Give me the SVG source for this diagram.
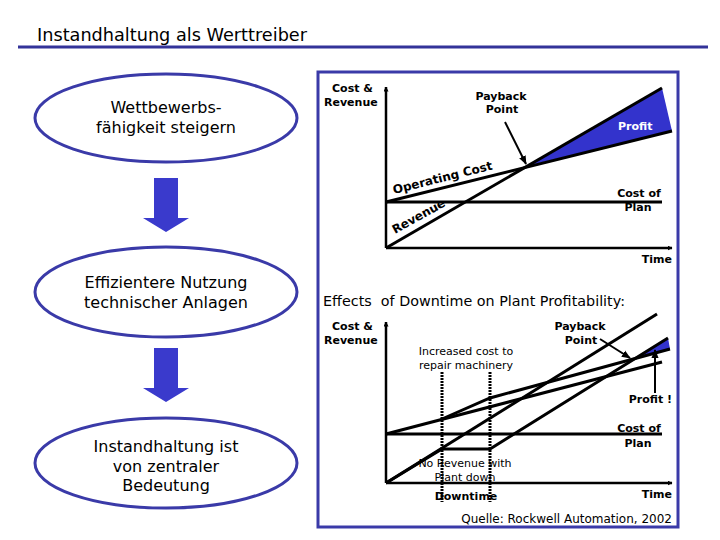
<svg xmlns="http://www.w3.org/2000/svg" width="720" height="540" viewBox="0 0 720 540">
<defs>
<marker id="ah" viewBox="0 0 10 10" refX="9" refY="5" markerWidth="5" markerHeight="5" orient="auto" markerUnits="userSpaceOnUse">
<path d="M0,0 L10,5 L0,10 Z" fill="#000"/>
</marker>
<marker id="ah2" viewBox="0 0 10 10" refX="9" refY="5" markerWidth="9" markerHeight="9" orient="auto" markerUnits="userSpaceOnUse">
<path d="M0,1 L10,5 L0,9 Z" fill="#000"/>
</marker>
<style>
.node ellipse{fill:#fff;stroke:#3a3aa8;stroke-width:3}
.nt{font-family:"DejaVu Sans","Liberation Sans",sans-serif;font-size:16px;fill:#000;text-anchor:middle}
.blk{fill:#3a3acc}
.ln{stroke:#000;stroke-width:3;fill:none}
.ax{stroke:#000;stroke-width:2.5;fill:none}
.b{font-family:"DejaVu Sans","Liberation Sans",sans-serif;font-size:11px;font-weight:bold;fill:#000}
.n{font-family:"DejaVu Sans","Liberation Sans",sans-serif;font-size:11px;fill:#000}
.dot{stroke:#000;stroke-width:3;stroke-dasharray:2 1;fill:none}
</style>
</defs>
<rect width="720" height="540" fill="#fff"/>
<g id="title">
<text x="37" y="41" font-family="DejaVu Sans, Liberation Sans, sans-serif" font-size="18" textLength="270" lengthAdjust="spacingAndGlyphs">Instandhaltung als Werttreiber</text>
<line x1="18" y1="47" x2="708" y2="47" stroke="#333399" stroke-width="3"/>
</g>
<g id="n1" class="node">
<ellipse cx="166" cy="118" rx="131" ry="44"/>
<text class="nt" x="166" y="113">Wettbewerbs-</text>
<text class="nt" x="166" y="133">fähigkeit steigern</text>
</g>
<g id="n2" class="node">
<ellipse cx="166" cy="292" rx="131" ry="45"/>
<text class="nt" x="166" y="288">Effizientere Nutzung</text>
<text class="nt" x="166" y="308">technischer Anlagen</text>
</g>
<g id="n3" class="node">
<ellipse cx="166" cy="463" rx="131" ry="45"/>
<text class="nt" x="166" y="452">Instandhaltung ist</text>
<text class="nt" x="166" y="472">von zentraler</text>
<text class="nt" x="166" y="491">Bedeutung</text>
</g>
<g id="connectors">
<path class="blk" d="M154,178 H178 V218 H189 L166,232 L143,218 H154 Z"/>
<path class="blk" d="M154,348 H178 V388 H189 L166,402 L143,388 H154 Z"/>
</g>
<g id="panel">
<rect x="318" y="72" width="360" height="455" fill="#fff" stroke="#3a3aa8" stroke-width="3"/>
<!-- top chart -->
<polygon points="527,166 662,88 672,131" fill="#3333cc"/>
<line class="ax" x1="386" y1="248" x2="386" y2="87" marker-end="url(#ah)"/>
<line class="ax" x1="386" y1="248" x2="672" y2="248" marker-end="url(#ah)"/>
<line class="ln" x1="386" y1="202" x2="662" y2="202"/>
<line class="ln" x1="386" y1="202" x2="672" y2="131"/>
<line class="ln" x1="386" y1="248" x2="662" y2="88"/>
<line stroke="#000" stroke-width="2" x1="505" y1="122" x2="526" y2="164" marker-end="url(#ah2)"/>
<text class="b" x="332" y="92">Cost &amp;</text>
<text class="b" x="324" y="106">Revenue</text>
<text class="b" x="501" y="100" text-anchor="middle">Payback</text>
<text class="b" x="502" y="113" text-anchor="middle">Point</text>
<text class="b" x="618" y="130" fill="#fff" style="fill:#fff">Profit</text>
<text class="b" x="639" y="197" text-anchor="middle">Cost of</text>
<text class="b" x="638" y="211" text-anchor="middle">Plan</text>
<text class="b" x="672" y="263" text-anchor="end">Time</text>
<text class="b" font-size="12" transform="translate(394,194) rotate(-14)" style="font-size:12px">Operating Cost</text>
<text class="b" transform="translate(395,234) rotate(-29)" style="font-size:12px">Revenue</text>
<!-- bottom chart -->
<text x="323" y="306" font-family="DejaVu Sans, Liberation Sans, sans-serif" font-size="13.5" textLength="302" lengthAdjust="spacingAndGlyphs" xml:space="preserve">Effects  of Downtime on Plant Profitability:</text>
<text class="b" x="332" y="330">Cost &amp;</text>
<text class="b" x="324" y="344">Revenue</text>
<text class="n" x="466" y="355" text-anchor="middle">Increased cost to</text>
<text class="n" x="466" y="369" text-anchor="middle">repair machinery</text>
<text class="n" x="465" y="467" text-anchor="middle">No Revenue with</text>
<text class="n" x="465" y="481" text-anchor="middle">Plant down</text>
<polygon points="632,360 668,338 670,349" fill="#3333cc"/>
<line class="ax" x1="386" y1="483" x2="386" y2="322" marker-end="url(#ah)"/>
<line class="ax" x1="386" y1="483" x2="672" y2="483" marker-end="url(#ah)"/>
<line class="ln" x1="386" y1="434" x2="662" y2="434"/>
<line class="ln" x1="386" y1="483" x2="657" y2="314"/>
<line class="ln" x1="386" y1="434" x2="662" y2="362"/>
<polyline class="ln" points="442,419 490,398 670,349"/>
<polyline class="ln" points="386,483 442,449 490,449 668,338"/>
<line class="dot" x1="442" y1="372" x2="442" y2="502"/>
<line class="dot" x1="490" y1="372" x2="490" y2="502"/>
<line stroke="#000" stroke-width="2" x1="600" y1="339" x2="630" y2="358" marker-end="url(#ah2)"/>
<line stroke="#000" stroke-width="2" x1="655" y1="393" x2="655" y2="350" marker-end="url(#ah2)"/>
<text class="b" x="580" y="330" text-anchor="middle">Payback</text>
<text class="b" x="581" y="344" text-anchor="middle">Point</text>
<text class="b" x="672" y="403" text-anchor="end">Profit !</text>
<text class="b" x="639" y="432" text-anchor="middle">Cost of</text>
<text class="b" x="638" y="447" text-anchor="middle">Plan</text>
<text class="b" x="466" y="500" text-anchor="middle">Downtime</text>
<text class="b" x="672" y="498" text-anchor="end">Time</text>
<text class="n" x="672" y="523" text-anchor="end" style="font-size:12px">Quelle: Rockwell Automation, 2002</text>
</g>
</svg>
